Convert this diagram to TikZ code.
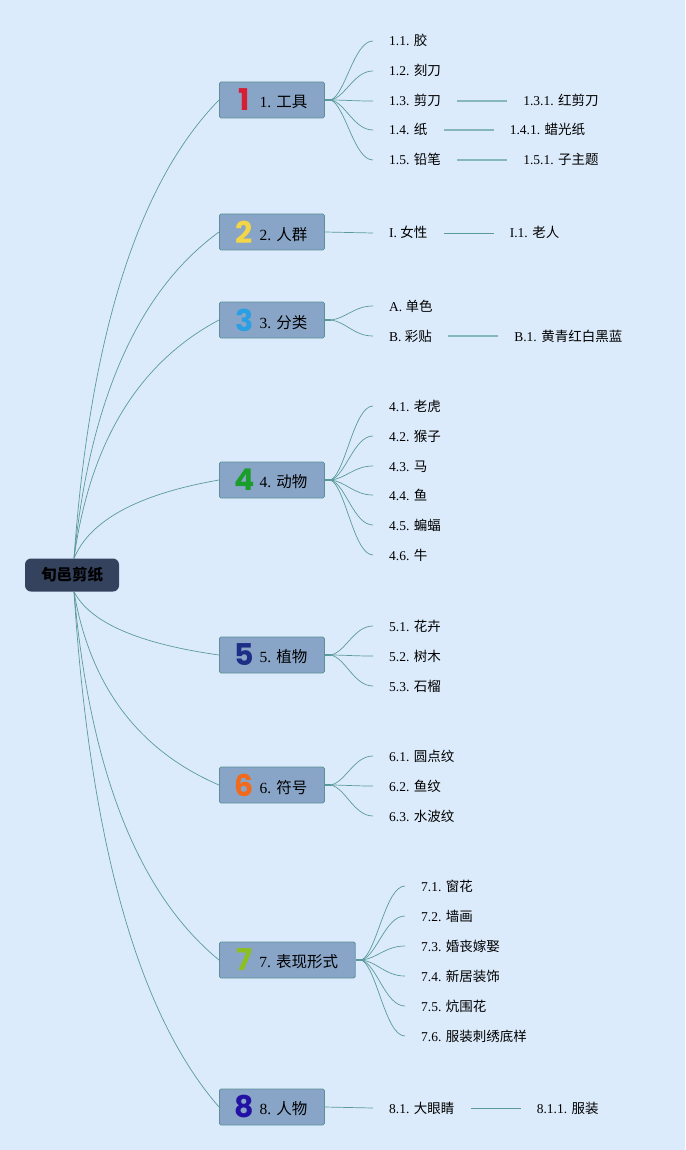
\documentclass[tikz,border=0pt]{standalone}
\usepackage{fontspec}
\setmainfont{Liberation Serif}
\newfontfamily\cjk{Noto Sans CJK SC}
\newfontfamily\numfont{Poppins}
\usetikzlibrary{positioning,calc}
\definecolor{bgc}{HTML}{DCEBFB}
\definecolor{boxc}{HTML}{88A5C8}
\definecolor{boxline}{HTML}{5C9096}
\definecolor{rootc}{HTML}{34425E}
\definecolor{linkc}{HTML}{5A9A9C}
\definecolor{sublinkc}{HTML}{86B7BE}
\definecolor{numa}{HTML}{D81E33}
\definecolor{numb}{HTML}{F3D548}
\definecolor{numc}{HTML}{2B9FE3}
\definecolor{numd}{HTML}{1B9D2B}
\definecolor{nume}{HTML}{1C2E85}
\definecolor{numf}{HTML}{F26A1B}
\definecolor{numg}{HTML}{8CBF1F}
\definecolor{numh}{HTML}{2311A5}
\newcommand{\bignum}[2]{\makebox[16pt]{\raisebox{-3pt}{\numfont\bfseries\fontsize{30}{30}\selectfont\color{#1}#2}}\hspace{7pt}}
\tikzset{
  rootnode/.style={fill=rootc, rounded corners=6pt, minimum width=94pt, minimum height=33pt, inner sep=0pt,
    font=\cjk\bfseries\fontsize{15.5}{18}\selectfont, text=black},
  topic/.style={draw=boxline, fill=boxc, line width=0.8pt, rounded corners=1.5pt, anchor=west,
    minimum width=105pt, minimum height=36pt, inner xsep=17pt, inner ysep=0pt, font=\fontsize{15.5}{18}\selectfont},
  leaf/.style={anchor=west, inner xsep=16pt, inner ysep=0pt, text height=11.5pt, text depth=1.5pt,
    font=\fontsize{13.5}{16}\selectfont},
  % quadratic curve from the root, bulging towards the root's column
  mainlink/.style={draw=linkc, line width=0.7pt,
    to path={let \p1=(\tikztostart), \p2=(\tikztotarget) in
      .. controls ({\x1+16pt}, {\y1+0.487*(\y2-\y1)}) and ({\x2+0.667*(\x1-\x2)+16pt}, {\y2+0.18*(\y1-\y2)}) .. (\tikztotarget)}},
  % s-shaped fan from a topic's hub to its subtopics
  fanlink/.style={draw=linkc, line width=0.7pt,
    to path={let \p1=(\tikztostart), \p2=(\tikztotarget) in
      .. controls ({\x1+0.35*(\x2-\x1)}, {\y1+0.1*(\y2-\y1)}) and ({\x1+0.55*(\x2-\x1)}, \y2) .. (\tikztotarget)}},
  stub/.style={draw=linkc, line width=1.6pt},
  link/.style={draw=linkc, line width=0.7pt},
  sublink/.style={draw=sublinkc, line width=1.2pt}
}
\begin{document}
\begin{tikzpicture}[x=1pt,y=-1pt]
\fill[bgc] (0,0) rectangle (685,1150);
% root and main topics
\node[rootnode] (root) at (72,575) {旬邑剪纸};
\node[topic] (b1) at (219,100) {\bignum{numa}{1}1. \cjk 工具};
\node[topic] (b2) at (219,232) {\bignum{numb}{2}2. \cjk 人群};
\node[topic] (b3) at (219,320) {\bignum{numc}{3}3. \cjk 分类};
\node[topic] (b4) at (219,480) {\bignum{numd}{4}4. \cjk 动物};
\node[topic] (b5) at (219,655) {\bignum{nume}{5}5. \cjk 植物};
\node[topic] (b6) at (219,785) {\bignum{numf}{6}6. \cjk 符号};
\node[topic] (b7) at (219,960) {\bignum{numg}{7}7. \cjk 表现形式};
\node[topic] (b8) at (219,1107) {\bignum{numh}{8}8. \cjk 人物};
\draw[mainlink] ([xshift=2pt]root.north) to (b1.west);
\draw[mainlink] ([xshift=2pt]root.north) to (b2.west);
\draw[mainlink] ([xshift=2pt]root.north) to (b3.west);
\draw[mainlink] ([xshift=2pt]root.north) to (b4.west);
\draw[mainlink] ([xshift=2pt]root.south) to (b5.west);
\draw[mainlink] ([xshift=2pt]root.south) to (b6.west);
\draw[mainlink] ([xshift=2pt]root.south) to (b7.west);
\draw[mainlink] ([xshift=2pt]root.south) to (b8.west);
% 1. tools
\node[leaf] (c11) at (373,41) {1.1. \cjk 胶};
\node[leaf] (c12) at (373,71) {1.2. \cjk 刻刀};
\node[leaf] (c13) at (373,101) {1.3. \cjk 剪刀};
\node[leaf] (c14) at (373,130) {1.4. \cjk 纸};
\node[leaf] (c15) at (373,160) {1.5. \cjk 铅笔};
\node[leaf, right=50pt of c13] (c131) {1.3.1. \cjk 红剪刀};
\node[leaf, right=50pt of c14] (c141) {1.4.1. \cjk 蜡光纸};
\node[leaf, right=50pt of c15] (c151) {1.5.1. \cjk 子主题};
\coordinate (h1) at ([xshift=6pt]b1.east);
\draw[stub] (b1.east) -- (h1);
\draw[fanlink] (h1) to (c11.west);
\draw[fanlink] (h1) to (c12.west);
\draw[fanlink] (h1) to (c13.west);
\draw[fanlink] (h1) to (c14.west);
\draw[fanlink] (h1) to (c15.west);
\draw[sublink] (c13.east) -- (c131.west);
\draw[sublink] (c14.east) -- (c141.west);
\draw[sublink] (c15.east) -- (c151.west);
% 2. people
\node[leaf] (c21) at (373,233) {I. \cjk 女性};
\node[leaf, right=50pt of c21] (c211) {I.1. \cjk 老人};
\draw[link] (b2.east) -- (c21.west);
\draw[link] (c21.east) -- (c211.west);
% 3. kinds
\node[leaf] (c31) at (373,306) {A. \cjk 单色};
\node[leaf] (c32) at (373,336) {B. \cjk 彩贴};
\node[leaf, right=50pt of c32] (c321) {B.1. \cjk 黄青红白黑蓝};
\coordinate (h3) at ([xshift=6pt]b3.east);
\draw[stub] (b3.east) -- (h3);
\draw[fanlink] (h3) to (c31.west);
\draw[fanlink] (h3) to (c32.west);
\draw[sublink] (c32.east) -- (c321.west);
% 4. animals
\node[leaf] (c41) at (373,406) {4.1. \cjk 老虎};
\node[leaf] (c42) at (373,436) {4.2. \cjk 猴子};
\node[leaf] (c43) at (373,466) {4.3. \cjk 马};
\node[leaf] (c44) at (373,495) {4.4. \cjk 鱼};
\node[leaf] (c45) at (373,525) {4.5. \cjk 蝙蝠};
\node[leaf] (c46) at (373,555) {4.6. \cjk 牛};
\coordinate (h4) at ([xshift=6pt]b4.east);
\draw[stub] (b4.east) -- (h4);
\draw[fanlink] (h4) to (c41.west);
\draw[fanlink] (h4) to (c42.west);
\draw[fanlink] (h4) to (c43.west);
\draw[fanlink] (h4) to (c44.west);
\draw[fanlink] (h4) to (c45.west);
\draw[fanlink] (h4) to (c46.west);
% 5. plants
\node[leaf] (c51) at (373,626) {5.1. \cjk 花卉};
\node[leaf] (c52) at (373,656) {5.2. \cjk 树木};
\node[leaf] (c53) at (373,686) {5.3. \cjk 石榴};
\coordinate (h5) at ([xshift=6pt]b5.east);
\draw[stub] (b5.east) -- (h5);
\draw[fanlink] (h5) to (c51.west);
\draw[fanlink] (h5) to (c52.west);
\draw[fanlink] (h5) to (c53.west);
% 6. symbols
\node[leaf] (c61) at (373,756) {6.1. \cjk 圆点纹};
\node[leaf] (c62) at (373,786) {6.2. \cjk 鱼纹};
\node[leaf] (c63) at (373,816) {6.3. \cjk 水波纹};
\coordinate (h6) at ([xshift=6pt]b6.east);
\draw[stub] (b6.east) -- (h6);
\draw[fanlink] (h6) to (c61.west);
\draw[fanlink] (h6) to (c62.west);
\draw[fanlink] (h6) to (c63.west);
% 7. forms
\node[leaf] (c71) at (405,886) {7.1. \cjk 窗花};
\node[leaf] (c72) at (405,916) {7.2. \cjk 墙画};
\node[leaf] (c73) at (405,946) {7.3. \cjk 婚丧嫁娶};
\node[leaf] (c74) at (405,976) {7.4. \cjk 新居装饰};
\node[leaf] (c75) at (405,1006) {7.5. \cjk 炕围花};
\node[leaf] (c76) at (405,1036) {7.6. \cjk 服装刺绣底样};
\coordinate (h7) at ([xshift=6pt]b7.east);
\draw[stub] (b7.east) -- (h7);
\draw[fanlink] (h7) to (c71.west);
\draw[fanlink] (h7) to (c72.west);
\draw[fanlink] (h7) to (c73.west);
\draw[fanlink] (h7) to (c74.west);
\draw[fanlink] (h7) to (c75.west);
\draw[fanlink] (h7) to (c76.west);
% 8. figures
\node[leaf] (c81) at (373,1108) {8.1. \cjk 大眼睛};
\node[leaf, right=50pt of c81] (c811) {8.1.1. \cjk 服装};
\draw[link] (b8.east) -- (c81.west);
\draw[link] (c81.east) -- (c811.west);
\end{tikzpicture}
\end{document}
